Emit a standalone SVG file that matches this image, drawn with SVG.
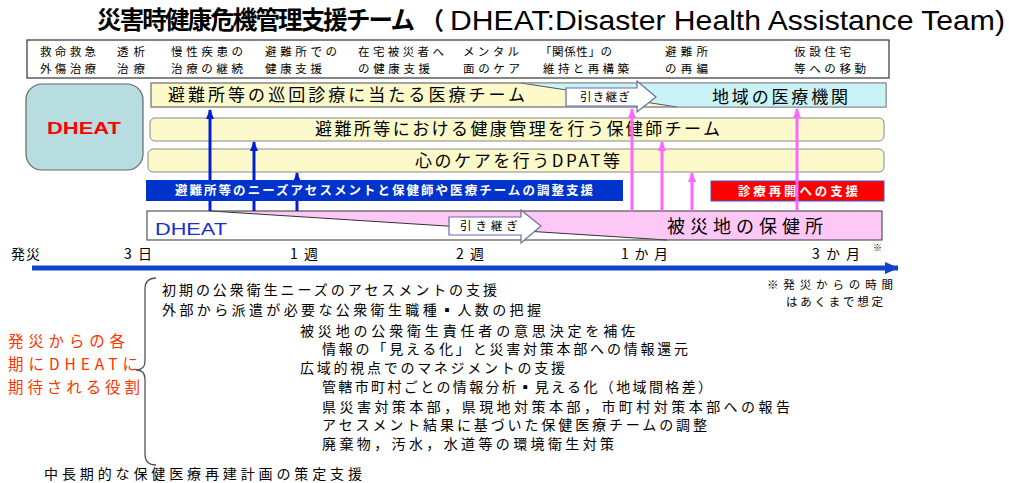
<svg xmlns="http://www.w3.org/2000/svg" width="1009" height="483" viewBox="0 0 1009 483">
<style>
text{font-family:"Noto Sans CJK JP","Liberation Sans",sans-serif;fill:#000}
.hd{font-size:11.5px}
.row{font-size:17px}
.lst{font-size:14px}
.tl{font-size:14px}
.wb{font-size:12.5px;font-weight:bold;fill:#fff}
.red{font-size:15.5px;fill:#ff3300}
.hand{font-size:11.5px}
.yel{fill:#fcfacb;stroke:#888;stroke-width:1}
.hw{fill:#fff;stroke:#6a6aa8;stroke-width:1.2}
.bl{stroke:#0022cc;stroke-width:3;fill:none}
.pk{stroke:#ff66ff;stroke-width:3;fill:none}
</style>
<defs>
<marker id="ab" viewBox="0 0 10 8" refX="9" refY="4" markerWidth="10" markerHeight="8" markerUnits="userSpaceOnUse" orient="auto"><path d="M0,0L10,4L0,8z" fill="#0022cc"/></marker>
<marker id="ap" viewBox="0 0 10 8" refX="9" refY="4" markerWidth="10" markerHeight="8" markerUnits="userSpaceOnUse" orient="auto"><path d="M0,0L10,4L0,8z" fill="#ff66ff"/></marker>
<marker id="at" viewBox="0 0 14 12" refX="13" refY="6" markerWidth="14" markerHeight="12" markerUnits="userSpaceOnUse" orient="auto"><path d="M0,0L14,6L0,12z" fill="#1144cc"/></marker>
</defs>
<rect width="1009" height="483" fill="#fff"/>

<g id="title">
<text x="97" y="29" font-size="24.5" font-weight="bold" textLength="318" lengthAdjust="spacing">災害時健康危機管理支援チーム</text>
<text x="420" y="29" font-size="24" font-weight="bold">（</text>
<text x="450" y="30" font-size="28" style="font-family:'Liberation Sans',sans-serif" textLength="555" lengthAdjust="spacingAndGlyphs">DHEAT:Disaster Health Assistance Team)</text>
</g>

<g id="header">
<rect x="27" y="40" width="862" height="38" fill="#fff" stroke="#333" stroke-width="1.2"/>
<text class="hd" x="40" y="56" textLength="56" lengthAdjust="spacing">救命救急</text>
<text class="hd" x="40" y="73" textLength="56" lengthAdjust="spacing">外傷治療</text>
<text class="hd" x="117" y="56" textLength="28" lengthAdjust="spacing">透析</text>
<text class="hd" x="117" y="73" textLength="28" lengthAdjust="spacing">治療</text>
<text class="hd" x="171" y="56" textLength="72" lengthAdjust="spacing">慢性疾患の</text>
<text class="hd" x="171" y="73" textLength="72" lengthAdjust="spacing">治療の継続</text>
<text class="hd" x="265" y="56" textLength="72" lengthAdjust="spacing">避難所での</text>
<text class="hd" x="265" y="73" textLength="57" lengthAdjust="spacing">健康支援</text>
<text class="hd" x="358" y="56" textLength="86" lengthAdjust="spacing">在宅被災者へ</text>
<text class="hd" x="358" y="73" textLength="72" lengthAdjust="spacing">の健康支援</text>
<text class="hd" x="463" y="56" textLength="56" lengthAdjust="spacing">メンタル</text>
<text class="hd" x="463" y="73" textLength="57" lengthAdjust="spacing">面のケア</text>
<text class="hd" x="540" y="56" textLength="72" lengthAdjust="spacing">「関係性」の</text>
<text class="hd" x="543" y="73" textLength="86" lengthAdjust="spacing">維持と再構築</text>
<text class="hd" x="665" y="56" textLength="43" lengthAdjust="spacing">避難所</text>
<text class="hd" x="665" y="73" textLength="43" lengthAdjust="spacing">の再編</text>
<text class="hd" x="794" y="56" textLength="57" lengthAdjust="spacing">仮設住宅</text>
<text class="hd" x="794" y="73" textLength="72" lengthAdjust="spacing">等への移動</text>
</g>

<g id="dheat-box">
<rect x="26" y="84" width="117" height="86" rx="16" fill="#b8dde0" stroke="#666" stroke-width="1.2"/>
<text x="47" y="134" font-size="16" font-weight="bold" style="font-family:'Liberation Sans',sans-serif;fill:#ff0000" textLength="74" lengthAdjust="spacingAndGlyphs">DHEAT</text>
</g>

<g id="row-medical">
<rect class="yel" x="151" y="83" width="735" height="24"/>
<path d="M521,83L886,83L886,107L677,107Z" fill="#c9f3f7"/>
<path d="M521,83L677,107" stroke="#555" stroke-width="1" fill="none"/>
<rect x="151" y="83" width="735" height="24" fill="none" stroke="#888" stroke-width="1"/>
<text class="row" x="168" y="101" textLength="357" lengthAdjust="spacing">避難所等の巡回診療に当たる医療チーム</text>
<text class="row" x="712" y="103" textLength="136" lengthAdjust="spacing">地域の医療機関</text>
</g>

<g id="handover-1">
<path class="hw" d="M566,88L637,88L637,81L656,97L637,112L637,106L566,106Z"/>
<text class="hand" x="580" y="101" textLength="50" lengthAdjust="spacing">引き継ぎ</text>
</g>

<g id="row-nurse">
<rect class="yel" x="150" y="118" width="734" height="23" rx="5"/>
<text class="row" x="315" y="135" textLength="405" lengthAdjust="spacing">避難所等における健康管理を行う保健師チーム</text>
</g>

<g id="row-dpat">
<rect class="yel" x="148" y="149" width="736" height="23" rx="5"/>
<text class="row" x="415" y="167" textLength="205" lengthAdjust="spacing">心のケアを行うDPAT等</text>
</g>

<g id="bar-resume">
<rect x="711" y="181" width="173" height="20" fill="#ff0000" stroke="#4455cc" stroke-width="1"/>
<text class="wb" x="738" y="196" textLength="120" lengthAdjust="spacing">診療再開への支援</text>
</g>

<g id="row-hc">
<rect x="147" y="211" width="735" height="29" fill="#fff"/>
<path d="M210,211L882,211L882,240L667,240Z" fill="#fdc8f6"/>
<path d="M210,211L667,240" stroke="#333" stroke-width="1" fill="none"/>
<rect x="147" y="211" width="735" height="29" fill="none" stroke="#555" stroke-width="1.2"/>
<text x="155" y="235" font-size="17" style="font-family:'Liberation Sans',sans-serif;fill:#1a2ecc" textLength="72" lengthAdjust="spacingAndGlyphs">DHEAT</text>
<text x="667" y="233" font-size="18" textLength="156" lengthAdjust="spacing">被災地の保健所</text>
</g>

<g id="handover-2">
<path class="hw" d="M449,217L521,217L521,210L541,226L521,243L521,235L449,235Z"/>
<text class="hand" x="460" y="230" textLength="58" lengthAdjust="spacing">引き継ぎ</text>
</g>

<g id="connectors">
<path class="bl" d="M210,211V110" marker-end="url(#ab)"/>
<path class="bl" d="M254,211V142" marker-end="url(#ab)"/>
<path class="bl" d="M297,211V173" marker-end="url(#ab)"/>
<path class="pk" d="M632,211V109" marker-end="url(#ap)"/>
<path class="pk" d="M662,211V142" marker-end="url(#ap)"/>
<path class="pk" d="M692,211V173" marker-end="url(#ap)"/>
<path class="pk" d="M797,211V109" marker-end="url(#ap)"/>
</g>

<g id="bar-coordination">
<rect x="146" y="180" width="477" height="21" fill="#0033cc"/>
<text class="wb" x="175" y="195" textLength="418" lengthAdjust="spacing">避難所等のニーズアセスメントと保健師や医療チームの調整支援</text>
</g>

<g id="timeline">
<path d="M32,268H898" stroke="#1144cc" stroke-width="5" fill="none" marker-end="url(#at)"/>
<text class="tl" x="11" y="259" textLength="29" lengthAdjust="spacing">発災</text>
<text class="tl" x="124" y="259" textLength="28" lengthAdjust="spacing">3日</text>
<text class="tl" x="290" y="259" textLength="28" lengthAdjust="spacing">1週</text>
<text class="tl" x="456" y="259" textLength="28" lengthAdjust="spacing">2週</text>
<text class="tl" x="621" y="259" textLength="47" lengthAdjust="spacing">1か月</text>
<text class="tl" x="812" y="259" textLength="48" lengthAdjust="spacing">3か月</text>
<text x="873" y="251" font-size="9">※</text>
</g>

<g id="note">
<text x="767" y="289" font-size="11.5" textLength="126" lengthAdjust="spacing">※発災からの時間</text>
<text x="786" y="306" font-size="11.5" textLength="97" lengthAdjust="spacing">はあくまで想定</text>
</g>

<g id="roles">
<text class="red" x="8" y="347" textLength="117" lengthAdjust="spacing">発災からの各</text>
<text class="red" x="8" y="370" textLength="130" lengthAdjust="spacing">期にDHEATに</text>
<text class="red" x="8" y="393" textLength="132" lengthAdjust="spacing">期待される役割</text>
<path d="M156,278Q145,278 145,289V361Q145,370 136,370Q145,370 145,379V454Q145,465 156,465" fill="none" stroke="#555" stroke-width="1.3"/>
<text class="lst" x="162" y="295" textLength="335" lengthAdjust="spacing">初期の公衆衛生ニーズのアセスメントの支援</text>
<text class="lst" x="162" y="315" textLength="379" lengthAdjust="spacing">外部から派遣が必要な公衆衛生職種▪人数の把握</text>
<text class="lst" x="300" y="336" textLength="335" lengthAdjust="spacing">被災地の公衆衛生責任者の意思決定を補佐</text>
<text class="lst" x="322" y="354" textLength="366" lengthAdjust="spacing">情報の「見える化」と災害対策本部への情報還元</text>
<text class="lst" x="300" y="373" textLength="265" lengthAdjust="spacing">広域的視点でのマネジメントの支援</text>
<text class="lst" x="322" y="392" textLength="390" lengthAdjust="spacing">管轄市町村ごとの情報分析▪見える化（地域間格差）</text>
<text class="lst" x="322" y="412" textLength="468" lengthAdjust="spacing">県災害対策本部，県現地対策本部，市町村対策本部への報告</text>
<text class="lst" x="322" y="430" textLength="385" lengthAdjust="spacing">アセスメント結果に基づいた保健医療チームの調整</text>
<text class="lst" x="322" y="449" textLength="292" lengthAdjust="spacing">廃棄物，汚水，水道等の環境衛生対策</text>
<text class="lst" x="44" y="479" textLength="318" lengthAdjust="spacing">中長期的な保健医療再建計画の策定支援</text>
</g>
</svg>
